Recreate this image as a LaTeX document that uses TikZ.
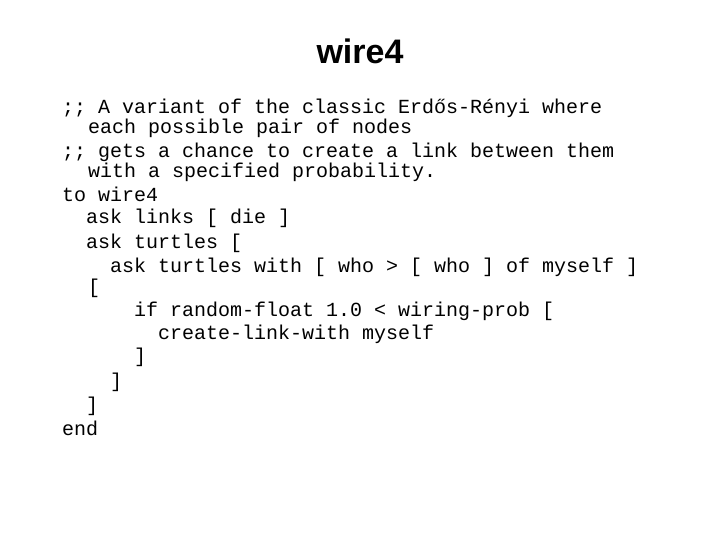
\documentclass[tikz,border=0pt]{standalone}
\usepackage{fontspec}
\setmainfont{Liberation Sans}
\newfontfamily\codefont{Liberation Mono}
\begin{document}
\begin{tikzpicture}[x=1pt,y=-1pt,
  codeline/.style={anchor=base west,inner sep=0pt,font=\codefont\fontsize{20}{22}\selectfont},
  titletext/.style={anchor=base,inner sep=0pt,font=\bfseries\fontsize{34}{38}\selectfont}]
\useasboundingbox (0,0) rectangle (720,540);
\node[titletext] (t) at (360,64) {wire4};
\node[codeline] (l1) at (62,114) {;; A variant of the classic Erdős-Rényi where};
\node[codeline] (l2) at (88,134) {each possible pair of nodes};
\node[codeline] (l3) at (62,158) {;; gets a chance to create a link between them};
\node[codeline] (l4) at (88,178) {with a specified probability.};
\node[codeline] (l5) at (62,202) {to wire4};
\node[codeline] (l6) at (86,224) {ask links [ die ]};
\node[codeline] (l7) at (86,248) {ask turtles [};
\node[codeline] (l8) at (110,272) {ask turtles with [ who > [ who ] of myself ]};
\node[codeline] (l9) at (88,293) {[};
\node[codeline] (l10) at (134,316) {if random-float 1.0 < wiring-prob [};
\node[codeline] (l11) at (158,339) {create-link-with myself};
\node[codeline] (l12) at (134,362) {]};
\node[codeline] (l13) at (110,387) {]};
\node[codeline] (l14) at (86,411) {]};
\node[codeline] (l15) at (62,435) {end};
\end{tikzpicture}
\end{document}
